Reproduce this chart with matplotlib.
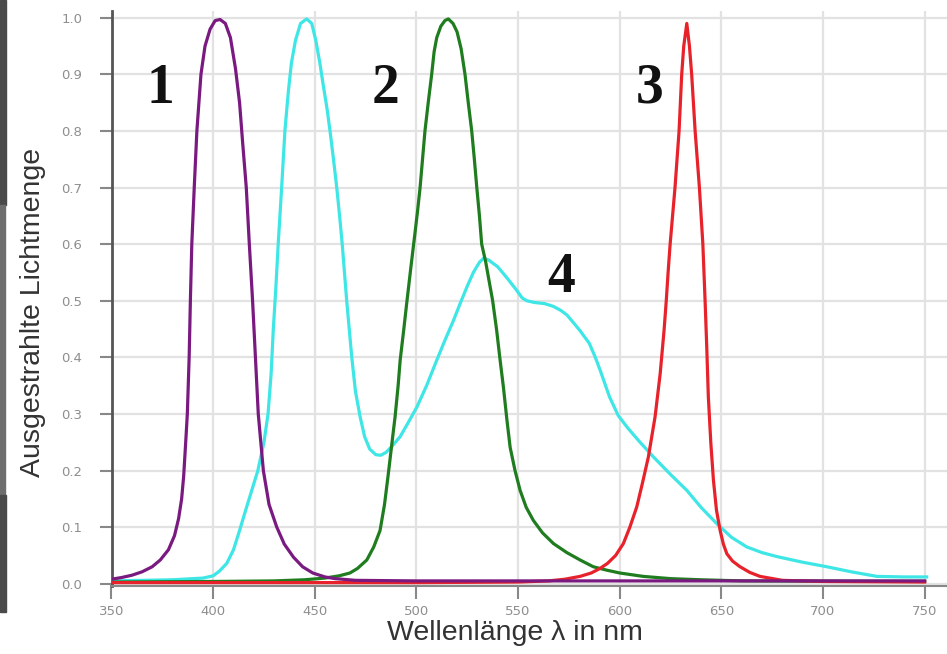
import matplotlib
matplotlib.use('Agg')
import matplotlib.pyplot as plt
from matplotlib.patches import Rectangle

# Spectra (wavelength in nm, relative emission)
wl_1 = [350, 355, 360, 365, 370, 374, 378, 381, 383, 384.5, 385.5, 386.5, 387.3, 388.2, 388.8,
        389.5, 390.7, 392, 394, 396, 398.5, 401, 403.4, 406, 408.5, 411, 413, 414.5, 416.3,
        417.8, 419.4, 420.8, 422.2, 424.7, 427.5, 431.3, 435, 439.5, 444, 449, 455, 460, 470,
        500, 600, 700, 750]
em_1 = [0.008, 0.011, 0.015, 0.021, 0.03, 0.042, 0.06, 0.085, 0.115, 0.15, 0.19, 0.25, 0.3, 0.4,
        0.5, 0.6, 0.7, 0.8, 0.9, 0.95, 0.98, 0.995, 0.997, 0.99, 0.965, 0.91, 0.85, 0.78, 0.7,
        0.6, 0.5, 0.4, 0.3, 0.2, 0.14, 0.1, 0.07, 0.047, 0.03, 0.019, 0.012, 0.009, 0.006,
        0.005, 0.005, 0.005, 0.005]

wl_2 = [350, 400, 430, 445, 455, 462, 467.3, 471, 475.6, 479, 482.1, 484.3, 486.2, 488, 489.5,
        491, 492, 493.8, 495.2, 497.3, 499.3, 500.6, 501.8, 503, 504.2, 505.8, 507.5, 508.7,
        510, 512, 514, 515.7, 518, 520, 522, 523.9, 525.5, 527.2, 528.5, 529.7, 531, 532.1,
        534, 536.5, 537.5, 539.5, 541, 542.8, 544.5, 546.1, 548.5, 551, 554, 557.5, 562,
        567.4, 574, 580.5, 587, 593.6, 600, 611.5, 625, 640, 660, 750]
em_2 = [0.003, 0.004, 0.005, 0.007, 0.01, 0.014, 0.019, 0.027, 0.042, 0.065, 0.094, 0.14, 0.195,
        0.25, 0.295, 0.35, 0.395, 0.45, 0.495, 0.56, 0.62, 0.66, 0.7, 0.75, 0.8, 0.85, 0.9,
        0.94, 0.965, 0.985, 0.995, 0.998, 0.99, 0.975, 0.945, 0.9, 0.85, 0.8, 0.75, 0.7, 0.65,
        0.6, 0.57, 0.52, 0.5, 0.447, 0.4, 0.347, 0.29, 0.241, 0.2, 0.165, 0.135, 0.112, 0.09,
        0.071, 0.055, 0.042, 0.03, 0.024, 0.019, 0.013, 0.009, 0.007, 0.005, 0.004]

wl_3 = [350, 500, 550, 565, 573, 580.5, 586, 590.3, 594, 598, 601.8, 605, 608.4, 611, 614.1,
        617.4, 619.9, 621.8, 622.9, 623.8, 624.8, 626, 627.2, 628.2, 629.2, 630.5, 631.5, 633,
        634.3, 635.4, 637.1, 639.2, 640.9, 642, 642.8, 643.6, 644.8, 646.1, 647.6, 649.4, 651,
        652.7, 655.5, 659.2, 664, 669, 680, 700, 750]
em_3 = [0.002, 0.002, 0.003, 0.005, 0.008, 0.013, 0.019, 0.027, 0.036, 0.05, 0.071, 0.1, 0.136,
        0.175, 0.224, 0.295, 0.371, 0.447, 0.5, 0.55, 0.6, 0.65, 0.7, 0.75, 0.8, 0.9, 0.95,
        0.99, 0.95, 0.9, 0.8, 0.7, 0.6, 0.5, 0.42, 0.33, 0.25, 0.183, 0.13, 0.094, 0.07, 0.053,
        0.04, 0.03, 0.02, 0.013, 0.006, 0.004, 0.003]

wl_4 = [350, 380, 395, 400, 403, 406.7, 410, 413, 416, 419, 422, 425, 427, 428.5, 429.6, 430.8,
        432, 433.7, 435.3, 437, 438.5, 440.5, 443, 446, 448.5, 450.5, 452.5, 454.2, 456, 457.5,
        459.2, 460.8, 462.2, 463.5, 465.7, 468.2, 470, 472.3, 474.5, 477, 480, 482.5, 485, 488,
        492, 496, 500.2, 505, 510, 514, 518.2, 521.5, 524.8, 528, 531, 533, 535.5, 540, 544.4,
        549, 552, 554.3, 558, 563, 567.4, 571, 574, 578, 580.5, 585, 588, 590.5, 595, 599.3,
        604, 610, 616.6, 625, 633, 640, 647.8, 655, 662.5, 670, 677.3, 690, 701.9, 714, 726.5,
        740, 751]
em_4 = [0.005, 0.007, 0.01, 0.014, 0.022, 0.036, 0.06, 0.094, 0.13, 0.165, 0.2, 0.25, 0.3, 0.37,
        0.45, 0.52, 0.6, 0.7, 0.8, 0.87, 0.92, 0.96, 0.99, 0.998, 0.99, 0.96, 0.92, 0.88, 0.84,
        0.8, 0.75, 0.7, 0.65, 0.6, 0.5, 0.4, 0.34, 0.295, 0.26, 0.238, 0.228, 0.227, 0.232,
        0.243, 0.26, 0.285, 0.312, 0.35, 0.395, 0.43, 0.465, 0.495, 0.524, 0.55, 0.568, 0.575,
        0.572, 0.56, 0.541, 0.52, 0.505, 0.5, 0.497, 0.495, 0.49, 0.483, 0.475, 0.458, 0.447,
        0.425, 0.4, 0.376, 0.33, 0.297, 0.275, 0.25, 0.224, 0.193, 0.165, 0.135, 0.106, 0.082,
        0.065, 0.055, 0.048, 0.038, 0.03, 0.021, 0.013, 0.012, 0.012]

labels = ['1', '2', '3', '4']
label_pos = [(374, 0.875), (485, 0.875), (614.5, 0.875), (571, 0.54)]

x_ticks = [350, 400, 450, 500, 550, 600, 650, 700, 750]
y_ticks = [0.0, 0.1, 0.2, 0.3, 0.4, 0.5, 0.6, 0.7, 0.8, 0.9, 1.0]

fig = plt.figure(figsize=(9.47, 6.54), dpi=100)
ax = fig.add_axes([111.5 / 947, 1 - 586 / 654, 1 - 111.5 / 947, 575 / 654])

# dark strip at the very left edge of the screenshot
fig.patches.append(Rectangle((0, 1 - 205 / 654), 6 / 947, 205 / 654, transform=fig.transFigure,
                             color='#4a4a4a', zorder=0))
fig.patches.append(Rectangle((0, 1 - 495 / 654), 5 / 947, 290 / 654, transform=fig.transFigure,
                             color='#6e6e6e', zorder=0))
fig.patches.append(Rectangle((0, 1 - 612 / 654), 6 / 947, 117 / 654, transform=fig.transFigure,
                             color='#4a4a4a', zorder=0))

lw = 2.3
ax.plot(wl_4, em_4, color='#3fe6e6', lw=lw, zorder=3)
ax.plot(wl_2, em_2, color='#1f7d1f', lw=lw, zorder=4)
ax.plot(wl_3, em_3, color='#e8222a', lw=lw, zorder=5)
ax.plot(wl_1, em_1, color='#7a1a80', lw=lw, zorder=6)

for t, (x, y) in zip(labels, label_pos):
    ax.text(x, y, t, fontsize=40, fontweight='bold', family='Liberation Serif',
            ha='center', va='center', color='#111111', zorder=7)

ax.set_xlim(350, 761)
ax.set_ylim(-0.004, 1.012)
ax.set_xticks(x_ticks)
ax.set_yticks(y_ticks)
ax.set_xticklabels([str(v) for v in x_ticks])
ax.set_yticklabels(['%.1f' % v for v in y_ticks])
ax.tick_params(axis='both', colors='#888888', labelcolor='#8e8e8e', labelsize=9.5,
               length=9, width=1.5)
ax.tick_params(axis='x', pad=5)
ax.tick_params(axis='y', pad=12)

ax.grid(True, color='#e2e2e2', lw=1.6, zorder=0)
ax.set_axisbelow(True)
for s in ['top', 'right']:
    ax.spines[s].set_visible(False)
ax.spines['left'].set_color('#555555')
ax.spines['left'].set_linewidth(2)
ax.spines['bottom'].set_color('#888888')
ax.spines['bottom'].set_linewidth(1.5)

fig.text(33 / 947, 1 - 312 / 654, 'Ausgestrahlte Lichtmenge', rotation=90, fontsize=20.5,
         family='Liberation Sans', color='#333333', ha='center', va='center')
fig.text(514.5 / 947, 1 - 633 / 654, 'Wellenlänge λ in nm', fontsize=20.5,
         family='Liberation Sans', color='#333333', ha='center', va='center')

fig.savefig('out.png', dpi=100)
